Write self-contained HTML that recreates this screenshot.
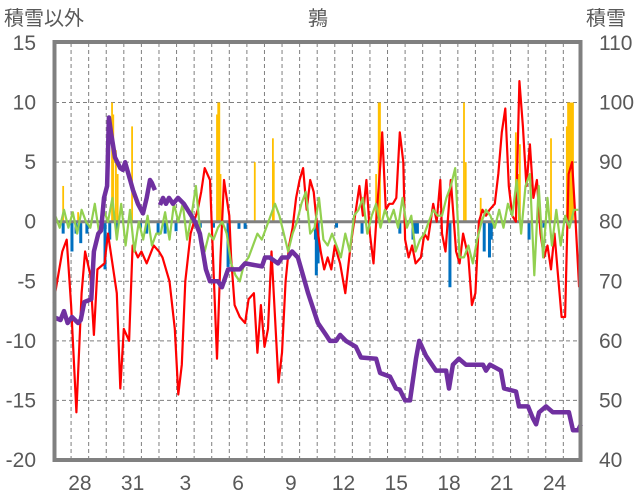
<!DOCTYPE html>
<html><head><meta charset="utf-8">
<style>
html,body{margin:0;padding:0;background:#fff;}
svg{display:block;font-family:"Liberation Sans","Noto Sans CJK JP",sans-serif;}
</style></head>
<body>
<svg id="chart" width="636" height="501" viewBox="0 0 636 501">
<g id="grid"></g>
<g id="bars"></g>
<g id="lines"></g>
<rect x="54.5" y="42" width="526" height="418" fill="none" stroke="#808080" stroke-width="4"/>
<g id="labels" fill="#595959" font-size="21"></g>
<text x="4" y="25" font-size="20" fill="#595959">積雪以外</text>
<text x="318" y="25" font-size="20" fill="#595959" text-anchor="middle">鶉</text>
<text x="586" y="25" font-size="20" fill="#595959">積雪</text>
</svg>
<script>
const leftTicks=[15,10,5,0,-5,-10,-15,-20];
const rightTicks=[110,100,90,80,70,60,50,40];
const dayLabels=["28","31","3","6","9","12","15","18","21","24"];
const dayLabelT=[1.5,4.5,7.5,10.5,13.5,16.5,19.5,22.5,25.5,28.5];
const redT=[0,0.5,0.75,1,1.3,1.6,1.8,2.1,2.3,2.5,2.9,3.1,3.3,3.6,3.8,4,4.3,4.5,4.8,5,5.3,5.7,6,6.2,6.6,6.9,7.1,7.3,7.5,7.8,8,8.2,8.4,8.6,8.9,9.1,9.3,9.5,9.7,10,10.1,10.3,10.6,10.9,11.1,11.4,11.6,11.8,12,12.2,12.4,12.6,12.8,13,13.2,13.4,13.6,13.8,14,14.2,14.4,14.6,14.8,15,15.2,15.4,15.6,15.8,16,16.3,16.6,16.9,17.2,17.4,17.6,17.8,18,18.2,18.4,18.6,18.7,18.9,19.1,19.3,19.5,19.7,19.9,20,20.2,20.4,20.6,20.9,21.1,21.3,21.6,21.8,22,22.1,22.3,22.6,22.9,23.1,23.3,23.6,23.8,24,24.2,24.4,24.6,24.8,25.1,25.3,25.5,25.7,25.9,26.1,26.3,26.5,26.7,26.9,27.1,27.3,27.5,27.7,27.9,28.1,28.3,28.5,28.7,28.9,29.1,29.3,29.5,29.7,29.9];
const redV=[-6.8,-2.5,-1.5,-7,-16,-6,-2.5,-4.5,-9.5,-4,-3.5,-1,-3,-6,-14,-9,-10,-2,-3,-2.5,-3.5,-2,-2.5,-3,-5,-9,-14.5,-12,-5,-1,0,1,2.5,4.5,3.5,-4,-11.5,-3,3.5,0.5,-3,-7,-8,-8.5,-6.5,-6,-11,-7,-10.5,-9,-2.5,-8,-13.5,-11,-5,-2,-0.5,2,3.5,4.5,1,3.5,2.5,-0.5,-2.5,-4,-3,-4,-2,-3.5,-6,-2,1,3,0.5,3.5,-1,-3.5,1,5,7.5,1,1.5,1.5,2,7.5,5,-1.5,-3,-2,-3.5,-3,-1,-1.5,1.5,0,3.5,-1,-2.5,3.5,-2.5,-3.5,-1,-3,-7,-6,0,1,0.5,1,1.5,4,7.5,9.5,3,0.5,0,11.8,8,3,6.5,2,3.5,-1,-3,-2,-4,-1,-4.5,-8,-8,4,5,0,-5.5];
const greenV=[0.5,-0.5,1,-0.5, 0.8,-1,1,0, -0.5,1.5,-1,1, 0,2,-1.5,1.5, -2,1,-2.5,0, -1.5,0.5,-2,-1, -1,0.8,-1.5,1.5, 0,1.5,-1.5,0.5, 3,-1,-2.5,-1, -1.5,-0.5,0,-1, -3.5,-4.5,-5,-3.5, -3,-2,-1,-1.5, -0.5,0.5,1.5,0.5, -1,-2.5,-1,0, 1.5,2.5,-1,-0.5, 2,-1.5,-2,-1, -2,-3,-1,-2.5, 0.5,1,2,-1, 0.5,1.5,-0.5,1, 0,1,-0.5,2, -0.5,0.5,-2.5,-1.5, -1,0,1,0.5, 0.5,2,3,4.5, -3,-3,-2,-3.5, -1.5,0,1,0.5, -0.5,1,-0.5,1.5, 0.5,3.5,-1,3, 4,-4.5,3,-3, 2,-2,1,-2, 0.5,-0.5,1,1];
const greenStep=0.25;
const snowT=[0,0.4,0.6,0.8,1.05,1.4,1.55,1.75,2.15,2.3,2.55,2.7,2.87,3.05,3.15,3.27,3.5,3.8,3.95,4.07,4.52,4.8,5.09,5.3,5.49,5.6,5.77,null,6.06,6.23,6.4,6.57,6.8,7.08,7.42,7.76,8.05,8.33,8.67,8.9,9.36,9.58,9.93,10.6,10.9,11.86,12.03,12.3,12.77,13,13.34,13.57,13.9,14.19,14.48,14.76,15.04,15.5,15.72,16.07,16.3,16.64,17.2,17.49,18.35,18.58,19.14,19.48,19.7,20,20.28,20.62,20.8,21.19,21.76,22.33,22.5,22.72,23.06,23.46,24.43,24.6,24.83,25.45,25.63,26.31,26.48,26.99,27.27,27.45,27.62,28.02,28.41,29.32,29.55,29.84,30];
const snowV=[64,63.5,65,63,64,63,63.5,66.5,67,75,78,78.5,84,86,97.5,95,90.8,89,88.7,90,85.3,83,81.4,84,87,86.5,85.3,null,82.8,84,83,84,83,84,83,81.4,80,78,72,70,70,69,72,72,73,72.5,74,74,73,74,74,75,74,71,68,65.5,63,61,60,60,61,60,59,57.2,57,54.6,54,52,51.8,50,50,57,60,57.5,55,55,52,56,57,56,56,55,56,55,52,51.5,49,49,47,46,48,49,48,48,45,45,46];
const plusT=[0.55,1.4,3.33,3.4,3.55,3.65,4.47,9.3,9.37,9.43,9.5,11.45,12.48,12.53,18.35,18.5,18.57,23.35,23.45,24.3,26.3,26.47,26.53,28.3,29.2,29.27,29.33,29.4,29.47,29.55];
const plusV=[3,0.8,10,9,6,4,8,9,10,10,4,5,7,5,4,10,10,10,5,2,7.5,4,6.5,7,8,10,10,10,10,10];
const minusT=[0.55,1.05,1.28,1.55,1.9,2.93,3.2,3.6,4.95,5.3,5.95,6.35,6.97,8.35,9.1,9.93,10.55,10.9,14.9,14.95,15.0,15.05,16.1,17.55,19.7,20.45,20.6,20.7,22.55,24.5,24.8,24.9,27.05,27.9];
const minusV=[-1,-2.5,-1,-1.8,-1,-4,-1.5,-1,-0.5,-1,-1,-1,-0.8,-0.5,-0.5,-3.8,-0.6,-0.6,-1.5,-4.5,-3,-3.5,-0.5,-1,-1,-1.5,-1,-1,-5.5,-2.5,-3,-1.5,-1.5,-0.5];

const NS="http://www.w3.org/2000/svg";
const X0=53.5,DX=17.58,YL0=221.7,KL=11.914;
function xS(t){return X0+t*DX;}
function yL(v){return YL0-v*KL;}
function yR(r){return 460-(r-40)*5.957;}
function mk(tag,attrs,parent){const e=document.createElementNS(NS,tag);for(const k in attrs)e.setAttribute(k,attrs[k]);parent.appendChild(e);return e;}
const grid=document.getElementById('grid'),bars=document.getElementById('bars'),lines=document.getElementById('lines'),labels=document.getElementById('labels');
for(let d=1;d<30;d++){
  const l=mk('line',{x1:xS(d),x2:xS(d),y1:43,y2:459,stroke:'#7f7f7f','stroke-width':1,'stroke-dasharray':'4,3'},grid);
  
  
}
leftTicks.forEach(v=>{
  if(v!==15&&v!==-20&&v!==0){
    const l=mk('line',{x1:55,x2:579,y1:yL(v),y2:yL(v),stroke:'#7f7f7f','stroke-width':1,'stroke-dasharray':'4,3'},grid);
    
    
  }
  const t=mk('text',{x:36,y:yL(v)+7,'text-anchor':'end'},labels);t.textContent=String(v);
  
  
});
rightTicks.forEach(r=>{
  const t=mk('text',{x:599,y:yR(r)+7},labels);t.textContent=String(r);
  
  
});
dayLabels.forEach((s,i)=>{
  const t=mk('text',{x:xS(dayLabelT[i]),y:490,'text-anchor':'middle'},labels);t.textContent=s;
  
  
});
plusT.forEach((t,i)=>{
  const r=mk('rect',{x:xS(t)-0.9,y:yL(plusV[i]),width:1.8,height:YL0-yL(plusV[i]),fill:'#ffc000'},bars);
  
  
});
minusT.forEach((t,i)=>{
  const r=mk('rect',{x:xS(t)-1.5,y:YL0,width:3,height:yL(minusV[i])-YL0,fill:'#0070c0'},bars);
  
  
});
const zl=mk('line',{x1:55,x2:579,y1:YL0,y2:YL0,stroke:'#808080','stroke-width':3},bars);


function path(pts){let d='',pen=false;pts.forEach(p=>{if(!p){pen=false;return;}d+=(pen?'L':'M')+p[0].toFixed(1)+','+p[1].toFixed(1);pen=true;});return d;}
const red=mk('path',{d:path(redT.map((t,i)=>[xS(t),yL(redV[i])])),fill:'none',stroke:'#ff0000','stroke-width':2.2,'stroke-linejoin':'round'},lines);


const grn=mk('path',{d:path(greenV.map((v,i)=>[xS(Math.min(i*greenStep+0.1,30)),yL(v)])),fill:'none',stroke:'#92d050','stroke-width':2.2,'stroke-linejoin':'round'},lines);


const pur=mk('path',{d:path(snowT.map((t,i)=>t===null?null:[xS(t),yR(snowV[i])])),fill:'none',stroke:'#7030a0','stroke-width':4.5,'stroke-linejoin':'round'},lines);


</script>
</body></html>
